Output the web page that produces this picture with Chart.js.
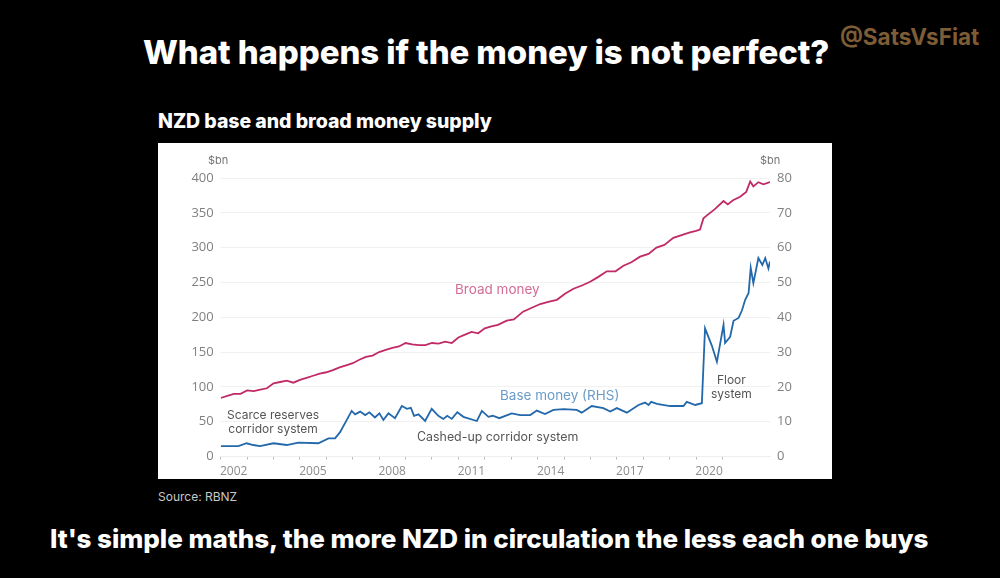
<!DOCTYPE html>
<html>
<head>
    <title>NZD base and broad money supply</title>
    <script src="https://cdn.jsdelivr.net/npm/chart.js"></script>
    <style>
body {
    margin: 0;
    background-color: #000;
    font-family: Inter, Arial, sans-serif;
    width: 1000px;
    height: 578px;
    overflow: hidden;
    position: relative;
}

.txt {
    position: absolute;
    white-space: nowrap;
    line-height: 1;
}

.title { left: 143px; top: 36px; font-size: 33px; font-weight: 800; color: #fff; letter-spacing: -0.1px; }
.handle { left: 840px; top: 26px; font-size: 22.5px; font-weight: 700; color: #7d5c36; }
.subtitle { left: 158px; top: 112px; font-size: 19.5px; font-weight: 800; color: #fff; letter-spacing: -0.05px; }
.source { left: 158px; top: 491px; font-size: 12px; color: #c8c8c8; }
.bottom { left: 50px; top: 526px; font-size: 26px; font-weight: 800; color: #fff; letter-spacing: -0.04px; }

.box {
    position: absolute;
    left: 158px;
    top: 143px;
    width: 674px;
    height: 336px;
    background: #fff;
}

canvas { filter: blur(0.5px); }

.note {
    position: absolute;
    white-space: nowrap;
    font-size: 12px;
    line-height: 14px;
    color: #555;
    text-align: center;
    filter: blur(0.5px);
}
    </style>
</head>
<body>
    <div class="txt title">What happens if the money is not perfect?</div>
    <div class="txt handle">@SatsVsFiat</div>
    <div class="txt subtitle">NZD base and broad money supply</div>

    <div class="box">
        <canvas id="moneyChart" width="674" height="336"></canvas>
        <div class="note" style="left:297px;top:139px;font-size:13.5px;color:#d56c96">Broad money</div>
        <div class="note" style="left:342px;top:245px;font-size:13.5px;color:#6b9bc8">Base money (RHS)</div>
        <div class="note" style="left:69px;top:265px">Scarce reserves<br>corridor system</div>
        <div class="note" style="left:259px;top:287px;font-size:12.4px">Cashed-up corridor system</div>
        <div class="note" style="left:553px;top:230px">Floor<br>system</div>
        <div class="note" style="left:50px;top:10px;font-size:11px;color:#777">$bn</div>
        <div class="note" style="left:602px;top:10px;font-size:11px;color:#777">$bn</div>
    </div>

    <div class="txt source">Source: RBNZ</div>
    <div class="txt bottom">It's simple maths, the more NZD in circulation the less each one buys</div>

    <script>
        const broadYears = [2002, 2002.25, 2002.5, 2002.75, 2003, 2003.25, 2003.5, 2003.75, 2004, 2004.25, 2004.5, 2004.75, 2005, 2005.25, 2005.5, 2005.75, 2006, 2006.25, 2006.5, 2006.75, 2007, 2007.25, 2007.5, 2007.75, 2008, 2008.25, 2008.5, 2008.75, 2009, 2009.25, 2009.5, 2009.75, 2010, 2010.25, 2010.5, 2010.75, 2011, 2011.25, 2011.5, 2011.75, 2012, 2012.25, 2012.5, 2012.83, 2013.1, 2013.45, 2013.8, 2014.1, 2014.4, 2014.73, 2015.05, 2015.36, 2015.7, 2015.99, 2016.3, 2016.62, 2016.95, 2017.25, 2017.55, 2017.88, 2018.2, 2018.5, 2018.8, 2019.14, 2019.45, 2019.77, 2020.0, 2020.15, 2020.28, 2020.4, 2020.7, 2021.04, 2021.2, 2021.4, 2021.67, 2021.9, 2022.05, 2022.17, 2022.36, 2022.55, 2022.8];
        const broadValues = [84, 87, 90, 90, 95, 94, 96, 98, 105, 107, 109, 106, 110, 113, 116, 119, 121, 124, 128, 131, 134, 139, 143, 145, 150, 153, 156, 158, 163, 161, 160, 160, 163, 162, 165, 163, 171, 175, 179, 177, 184, 187, 189, 195, 197, 208, 214, 219, 222, 225, 234, 241, 246, 251, 258, 266, 266, 274, 279, 287, 291, 300, 304, 314, 318, 322, 324, 326, 342, 346, 355, 367, 362, 368, 373, 380, 395, 388, 394, 391, 394];

        const baseYears = [2002, 2002.29, 2002.67, 2002.98, 2003.23, 2003.49, 2004, 2004.5, 2004.94, 2005.7, 2006.08, 2006.33, 2006.52, 2006.96, 2007.09, 2007.28, 2007.47, 2007.63, 2007.84, 2008.01, 2008.16, 2008.35, 2008.6, 2008.86, 2009.05, 2009.2, 2009.32, 2009.49, 2009.74, 2009.99, 2010.24, 2010.43, 2010.58, 2010.75, 2010.96, 2011.19, 2011.7, 2011.89, 2012.14, 2012.3, 2012.55, 2013.02, 2013.34, 2013.72, 2013.97, 2014.28, 2014.6, 2014.98, 2015.48, 2015.67, 2016.05, 2016.49, 2016.75, 2017, 2017.38, 2017.82, 2018.07, 2018.2, 2018.3, 2018.52, 2019.02, 2019.52, 2019.65, 2019.97, 2020.22, 2020.34, 2020.6, 2020.79, 2021.04, 2021.1, 2021.29, 2021.42, 2021.61, 2021.74, 2021.86, 2021.99, 2022.07, 2022.17, 2022.36, 2022.51, 2022.62, 2022.74, 2022.8];
        const baseValues = [3, 3, 3, 3.8, 3.3, 3, 3.8, 3.3, 4, 3.8, 5.2, 5.2, 7, 13.1, 12.1, 12.9, 11.9, 12.7, 11.2, 12.4, 10.5, 12.4, 11, 14.5, 13.7, 14, 11.7, 12.1, 10.2, 13.7, 11.7, 10.8, 11.7, 10.8, 12.7, 11.4, 10.2, 13.1, 11.4, 11.7, 11, 12.4, 11.9, 11.9, 13.2, 12.2, 13.4, 13.6, 13.4, 12.6, 14.5, 13.9, 12.9, 13.9, 12.6, 14.8, 15.5, 14.8, 15.7, 15.1, 14.5, 14.5, 15.7, 14.8, 15.3, 36.8, 31.8, 27.2, 37.8, 32.6, 34.4, 39, 39.8, 42, 45, 47, 54.2, 49.8, 57, 55, 57, 54, 56];

        const yearLabels = [2002, 2005, 2008, 2011, 2014, 2017, 2020];
        const leftTicks = [0, 50, 100, 150, 200, 250, 300, 350, 400];
        const rightTicks = [0, 10, 20, 30, 40, 50, 60, 70, 80];

        const toPoints = (xs, ys) => xs.map((x, i) => ({ x: x, y: ys[i] }));

        new Chart(document.getElementById('moneyChart'), {
            type: 'line',
            data: {
                datasets: [
                    { label: 'Broad money', data: toPoints(broadYears, broadValues), yAxisID: 'y', borderColor: '#c02a66', borderWidth: 1.8, pointRadius: 0 },
                    { label: 'Base money (RHS)', data: toPoints(baseYears, baseValues), yAxisID: 'y1', borderColor: '#2268ab', borderWidth: 1.8, pointRadius: 0 }
                ]
            },
            options: {
                responsive: false,
                animation: false,
                layout: { padding: { top: 35 } },
                plugins: { legend: { display: false }, tooltip: { enabled: false } },
                scales: {
                    x: {
                        type: 'linear',
                        min: 2002,
                        max: 2022.8,
                        afterBuildTicks: axis => { axis.ticks = axis.ticks.filter(t => Number.isInteger(t.value)); },
                        afterFit: axis => { axis.height = 22.5; },
                        border: { color: '#eeeeee' },
                        grid: { drawOnChartArea: false, tickLength: 3, color: '#bbbbbb' },
                        ticks: {
                            stepSize: 1,
                            autoSkip: false,
                            maxRotation: 0,
                            padding: 5,
                            labelOffset: 13,
                            color: '#8c8c8c',
                            font: { family: 'Open Sans', size: 12 },
                            callback: v => yearLabels.includes(v) ? String(v) : ''
                        }
                    },
                    y: {
                        position: 'left',
                        min: 0,
                        max: 400,
                        afterFit: axis => { axis.width = 62.7; },
                        border: { display: false },
                        grid: { color: '#f1f1f1', tickLength: 0 },
                        afterBuildTicks: axis => { axis.ticks = leftTicks.map(v => ({ value: v })); },
                        ticks: { color: '#808080', padding: 7, font: { family: 'Open Sans', size: 13 } }
                    },
                    y1: {
                        position: 'right',
                        min: 0,
                        max: 80,
                        afterFit: axis => { axis.width = 62; },
                        border: { display: false },
                        grid: { drawOnChartArea: false, tickLength: 0 },
                        afterBuildTicks: axis => { axis.ticks = rightTicks.map(v => ({ value: v })); },
                        ticks: { color: '#808080', padding: 7, font: { family: 'Open Sans', size: 13 } }
                    }
                }
            }
        });
    </script>
</body>
</html>
